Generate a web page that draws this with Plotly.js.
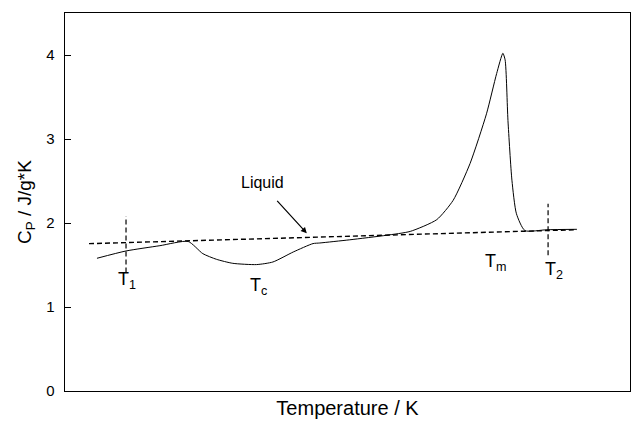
<!DOCTYPE html>
<html>
<head>
<meta charset="utf-8">
<script src="https://cdn.plot.ly/plotly-3.0.1.min.js"></script>
<style>html,body{margin:0;padding:0;background:#fff;}#chart{width:640px;height:427px;}</style>
</head>
<body>
<div id="chart"></div>
<script>
// Measured Cp curve (temperature in arbitrary units across the axis)
const tempCurve = [5.66, 10.8, 16.8, 21.8, 24.4, 26.8, 29.7, 33.9, 36.8, 40.4, 43.9, 45.1, 50.4, 56.9, 61.1, 65.8, 68.7, 71.7, 74.6, 76.4, 77.5, 77.9, 78.4, 79.1, 79.9, 81.4, 85.3, 90.6];
const cpCurve   = [1.58, 1.667, 1.73, 1.78, 1.635, 1.568, 1.52, 1.505, 1.536, 1.655, 1.755, 1.762, 1.80, 1.854, 1.90, 2.04, 2.27, 2.71, 3.30, 3.78, 4.02, 3.94, 3.22, 2.51, 2.11, 1.91, 1.92, 1.925];
// Liquid baseline
const tempLiquid = [4.25, 90.6];
const cpLiquid   = [1.754, 1.92];
// Marker lines T1, T2
const tempT1 = [10.8, 10.8];
const cpT1   = [1.41, 2.08];
const tempT2 = [85.5, 85.5];
const cpT2   = [1.615, 2.23];
// Labels
const labelText = ['T<sub>1</sub>', 'T<sub>c</sub>', 'T<sub>m</sub>', 'T<sub>2</sub>'];
const labelX    = [11.0, 34.3, 76.3, 86.6];
const labelY    = [1.31, 1.25, 1.53, 1.44];

const traces = [
  {x: tempLiquid, y: cpLiquid, mode: 'lines', line: {color: '#000', width: 1.4, dash: '5px,3px'}, hoverinfo: 'skip'},
  {x: tempT1, y: cpT1, mode: 'lines', line: {color: '#000', width: 1.2, dash: '5px,3px'}, hoverinfo: 'skip'},
  {x: tempT2, y: cpT2, mode: 'lines', line: {color: '#000', width: 1.2, dash: '5px,3px'}, hoverinfo: 'skip'},
  {x: tempCurve, y: cpCurve, mode: 'lines', line: {color: '#000', width: 1, shape: 'spline', smoothing: 0.6}, hoverinfo: 'skip'}
];

const font = {family: 'Liberation Sans, Arial, sans-serif', color: '#000'};
const annotations = labelText.map((t, i) => ({
  x: labelX[i], y: labelY[i], text: t, showarrow: false,
  font: Object.assign({}, font, {size: 18})
}));
annotations.push({x: 35.0, y: 2.485, text: 'Liquid', showarrow: false, font: Object.assign({}, font, {size: 16})});
annotations.push({x: 42.8, y: 1.877, text: '', showarrow: true, arrowhead: 2, arrowsize: 1, arrowwidth: 1.2, arrowcolor: '#000', ax: -31, ay: -34, axref: 'pixel', ayref: 'pixel'});

const layout = {
  width: 640, height: 427,
  margin: {l: 65, r: 10, t: 13, b: 36},
  paper_bgcolor: '#fff', plot_bgcolor: '#fff',
  showlegend: false,
  font: font,
  xaxis: {
    range: [0, 100], showgrid: false, zeroline: false, showticklabels: false, ticks: '',
    showline: true, mirror: true, linecolor: '#000', linewidth: 1.3,
    title: {text: 'Temperature / K', font: Object.assign({}, font, {size: 20}), standoff: 9}
  },
  yaxis: {
    range: [0, 4.5], tickvals: [0, 1, 2, 3, 4], showgrid: false, zeroline: false,
    ticks: 'inside', ticklen: 6, tickcolor: '#000', tickwidth: 1,
    tickfont: Object.assign({}, font, {size: 15}), ticklabelstandoff: 6,
    showline: true, mirror: true, linecolor: '#000', linewidth: 1.3,
    title: {text: 'C<sub>P</sub> / J/g*K', font: Object.assign({}, font, {size: 19}), standoff: 9}
  },
  annotations: annotations
};

Plotly.newPlot('chart', traces, layout, {staticPlot: true, displayModeBar: false});
</script>
</body>
</html>
